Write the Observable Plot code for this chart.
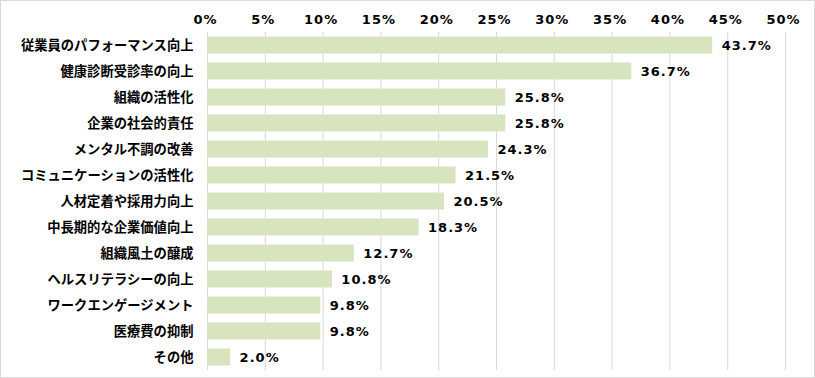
<!DOCTYPE html>
<html>
<head>
<meta charset="utf-8">
<script src="https://cdn.jsdelivr.net/npm/d3@7"></script>
<script src="https://cdn.jsdelivr.net/npm/@observablehq/plot@0.6"></script>
<style>
  html, body { margin: 0; padding: 0; background: #fff; }
  #chart svg { display: block; outline: 1px solid #d9d9d9; outline-offset: -1px; }
  #chart svg text { fill: #000; }
  .num text { letter-spacing: 1px; }
</style>
</head>
<body>
<div id="chart"></div>
<script>
const categories = [
  "従業員のパフォーマンス向上",
  "健康診断受診率の向上",
  "組織の活性化",
  "企業の社会的責任",
  "メンタル不調の改善",
  "コミュニケーションの活性化",
  "人材定着や採用力向上",
  "中長期的な企業価値向上",
  "組織風土の醸成",
  "ヘルスリテラシーの向上",
  "ワークエンゲージメント",
  "医療費の抑制",
  "その他"
];
const values = [43.7, 36.7, 25.8, 25.8, 24.3, 21.5, 20.5, 18.3, 12.7, 10.8, 9.8, 9.8, 2.0];
const xTicks = [0, 5, 10, 15, 20, 25, 30, 35, 40, 45, 50];

const data = categories.map((c, i) => ({category: c, value: values[i]}));

const numFont = "'DejaVu Sans', Verdana, sans-serif";
const jpFont = "'Noto Sans CJK JP', sans-serif";

const chart = Plot.plot({
  width: 815,
  height: 378,
  marginTop: 32,
  marginLeft: 207,
  marginRight: 30,
  marginBottom: 8,
  x: {domain: [0, 50], ticks: xTicks},
  y: {domain: categories, padding: 0},
  marks: [
    Plot.gridX(xTicks, {stroke: "#d9d9d9", strokeOpacity: 1}),
    Plot.barX(data, {y: "category", x: "value", fill: "#d7e4bd", insetTop: 4.5, insetBottom: 4.5}),
    Plot.text(data, {
      y: "category", x: "value", text: d => d.value.toFixed(1) + "%",
      textAnchor: "start", dx: 9, fontSize: 13, fontWeight: "bold",
      fontFamily: numFont, fill: "#000", className: "num"
    }),
    Plot.axisX(xTicks, {
      anchor: "top", tickSize: 0, tickPadding: 9, dx: -2,
      tickFormat: d => d + "%", fontSize: 13, fontWeight: "bold",
      fontFamily: numFont, fill: "#000", className: "num", label: null
    }),
    Plot.axisY({
      anchor: "left", tickSize: 0, tickPadding: 14, fontSize: 13.3,
      fontWeight: 600, fontFamily: jpFont, fill: "#000", label: null
    })
  ]
});
document.getElementById("chart").appendChild(chart);
</script>
</body>
</html>
